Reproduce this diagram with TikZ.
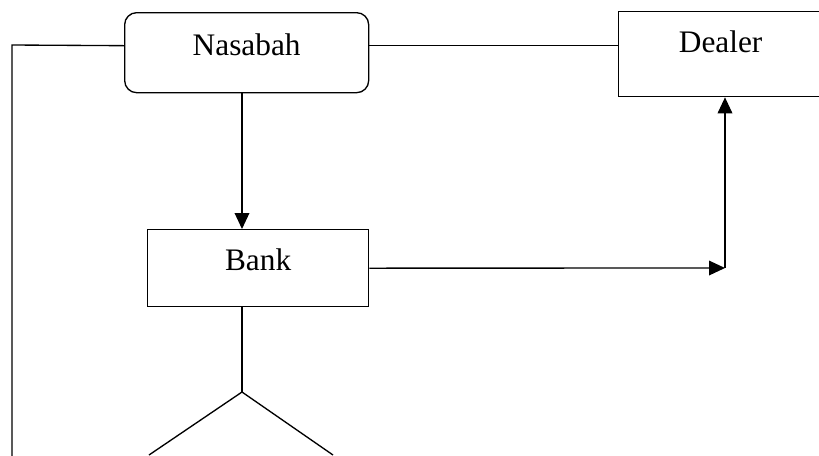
\documentclass[tikz,border=0pt]{standalone}
\usepackage{fontspec}
\setmainfont{Liberation Serif}
\usetikzlibrary{arrows.meta,positioning}

\tikzset{
  box/.style={draw,line width=1pt,inner sep=0pt,anchor=north west,font=\fontsize{23.5}{28}\selectfont},
  rbox/.style={box,rounded corners=9pt},
  conn/.style={line width=1pt},
  arr/.style={conn,-{Triangle[length=12pt,width=11pt]}}
}

\begin{document}
\begin{tikzpicture}[x=0.75pt,y=-0.75pt]
\useasboundingbox (0,0) rectangle (819,455);

\node[rbox,minimum width=183pt,text height=32.25pt,text depth=27.75pt] (nasabah) at (124,12) {Nasabah};
\node[box,minimum width=153pt,text height=30.75pt,text depth=33pt] (dealer) at (618,11) {Dealer};
\node[box,minimum width=165.75pt,text height=30.75pt,text depth=27pt] (bank) at (147,229) {Bank};

\coordinate (corner) at (12,45);
\coordinate (bottomleft) at (12,460);
\coordinate (turn) at (725,268);
\coordinate (apex) at (242,392);
\coordinate (legl) at (149,455);
\coordinate (legr) at (333,455);

\draw[conn] ([yshift=5.25pt]nasabah.west) -- (corner) -- (bottomleft);
\draw[conn] ([yshift=5.25pt]nasabah.east) -- ([yshift=5.25pt]nasabah.east -| dealer.west);
\draw[arr] (nasabah.south -| apex) -- (bank.north -| apex);
\draw[arr] (bank.east) -- (turn);
\draw[arr] (turn) -- (dealer.south -| turn);

\draw[conn] (bank.south -| apex) -- (apex);
\draw[conn] (legl) -- (apex) -- (legr);
\end{tikzpicture}
\end{document}
